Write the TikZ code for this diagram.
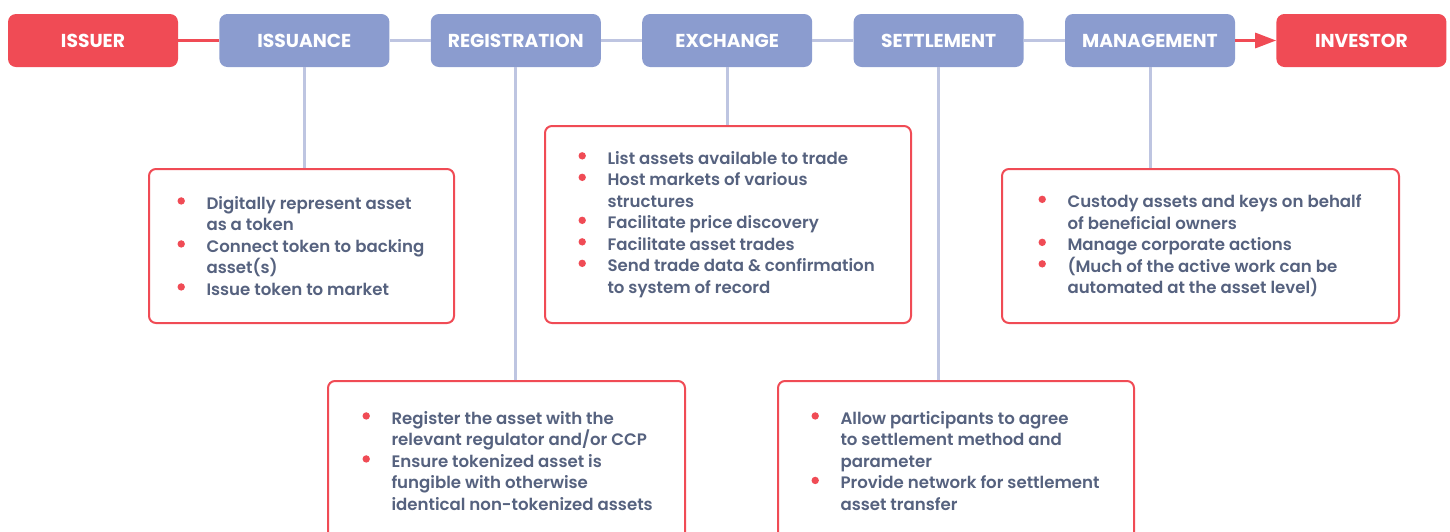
\documentclass[tikz,border=0pt]{standalone}
\usepackage{fontspec}
\setmainfont{Poppins}[UprightFont=* SemiBold, BoldFont=* Bold]
\usepackage{xcolor}
\usepackage{enumitem}
\usetikzlibrary{positioning}
\usetikzlibrary{arrows.meta}
\tikzset{>={Triangle[width=15pt,length=21pt]}}

\definecolor{issuerred}{HTML}{F04B55}
\definecolor{stepblue}{HTML}{8B9CCF}
\definecolor{linkgrey}{HTML}{BEC5E1}
\definecolor{bodytext}{HTML}{56627F}

\newcommand{\reddot}{\tikz[baseline=-8.5pt]\fill[issuerred] (0,0) circle (3.7pt);}
\setlist[itemize]{label=\reddot, leftmargin=29pt, labelwidth=7.4pt, labelsep=21.6pt,
  itemsep=0pt, topsep=0pt, parsep=0pt, partopsep=0pt}

\begin{document}
\begin{tikzpicture}[x=1pt,y=-1pt,
    stepbox/.style={rectangle, rounded corners=8pt, fill=stepblue, text=white,
      minimum width=170pt, minimum height=53pt, inner sep=0pt,
      font=\fontsize{18.7}{20}\selectfont\bfseries},
    endbox/.style={stepbox, fill=issuerred},
    detailbox/.style={rectangle, draw=issuerred, line width=2pt, rounded corners=7pt,
      fill=white, inner sep=0pt, anchor=north west},
    listtext/.style={inner sep=0pt, anchor=west, text=bodytext,
      font=\fontsize{16.6}{21.5}\selectfont},
    steplink/.style={linkgrey, line width=3pt},
    issuerlink/.style={issuerred, line width=3pt}]

  \useasboundingbox (0,0) rectangle (1450,531);

  % top row
  \node[endbox] (issuer) at (93,40.5) {ISSUER};
  \node[stepbox, right=41pt of issuer] (issuance) {ISSUANCE};
  \node[stepbox, right=41pt of issuance] (registration) {REGISTRATION};
  \node[stepbox, right=41pt of registration] (exchange) {EXCHANGE};
  \node[stepbox, right=41pt of exchange] (settlement) {SETTLEMENT};
  \node[stepbox, right=41pt of settlement] (management) {MANAGEMENT};
  \node[endbox, right=41pt of management] (investor) {INVESTOR};

  % detail boxes
  \node[detailbox, minimum width=305pt, minimum height=154pt] (issuancebox) at (148,168) {};
  \node[detailbox, minimum width=366pt, minimum height=197pt] (exchangebox) at (544,125) {};
  \node[detailbox, minimum width=397pt, minimum height=154pt] (managementbox) at (1001,168) {};
  \node[detailbox, minimum width=357pt, minimum height=160pt] (registrationbox) at (327,380) {};
  \node[detailbox, minimum width=356pt, minimum height=160pt] (settlementbox) at (777,380) {};

  \node[listtext] (issuancetext) at ([xshift=29.3pt]issuancebox.west) {%
    \begin{minipage}{270pt}\begin{itemize}
      \item Digitally represent asset\newline as a token
      \item Connect token to backing\newline asset(s)
      \item Issue token to market
    \end{itemize}\end{minipage}};
  \node[listtext] (exchangetext) at ([xshift=34.3pt]exchangebox.west) {%
    \begin{minipage}{325pt}\begin{itemize}
      \item List assets available to trade
      \item Host markets of various\newline structures
      \item Facilitate price discovery
      \item Facilitate asset trades
      \item Send trade data \& confirmation\newline to system of record
    \end{itemize}\end{minipage}};
  \node[listtext] (managementtext) at ([xshift=37.3pt]managementbox.west) {%
    \begin{minipage}{355pt}\begin{itemize}
      \item Custody assets and keys on behalf\newline of beneficial owners
      \item Manage corporate actions
      \item (Much of the active work can be\newline automated at the asset level)
    \end{itemize}\end{minipage}};
  \node[listtext] (registrationtext) at ([xshift=35.3pt]registrationbox.west) {%
    \begin{minipage}{315pt}\begin{itemize}
      \item Register the asset with the\newline relevant regulator and/or CCP
      \item Ensure tokenized asset is\newline fungible with otherwise\newline identical non-tokenized assets
    \end{itemize}\end{minipage}};
  \node[listtext] (settlementtext) at ([xshift=34.3pt]settlementbox.west) {%
    \begin{minipage}{315pt}\begin{itemize}
      \item Allow participants to agree\newline to settlement method and\newline parameter
      \item Provide network for settlement\newline asset transfer
    \end{itemize}\end{minipage}};

  % connectors
  \draw[issuerlink] (issuer) -- (issuance);
  \draw[steplink] (issuance) -- (registration);
  \draw[steplink] (registration) -- (exchange);
  \draw[steplink] (exchange) -- (settlement);
  \draw[steplink] (settlement) -- (management);
  \draw[issuerlink,->] (management) -- (investor);

  \draw[steplink] (issuance.south) -- (issuance.south |- issuancebox.north);
  \draw[steplink] (registration.south) -- (registration.south |- registrationbox.north);
  \draw[steplink] (exchange.south) -- (exchange.south |- exchangebox.north);
  \draw[steplink] (settlement.south) -- (settlement.south |- settlementbox.north);
  \draw[steplink] (management.south) -- (management.south |- managementbox.north);

\end{tikzpicture}
\end{document}
